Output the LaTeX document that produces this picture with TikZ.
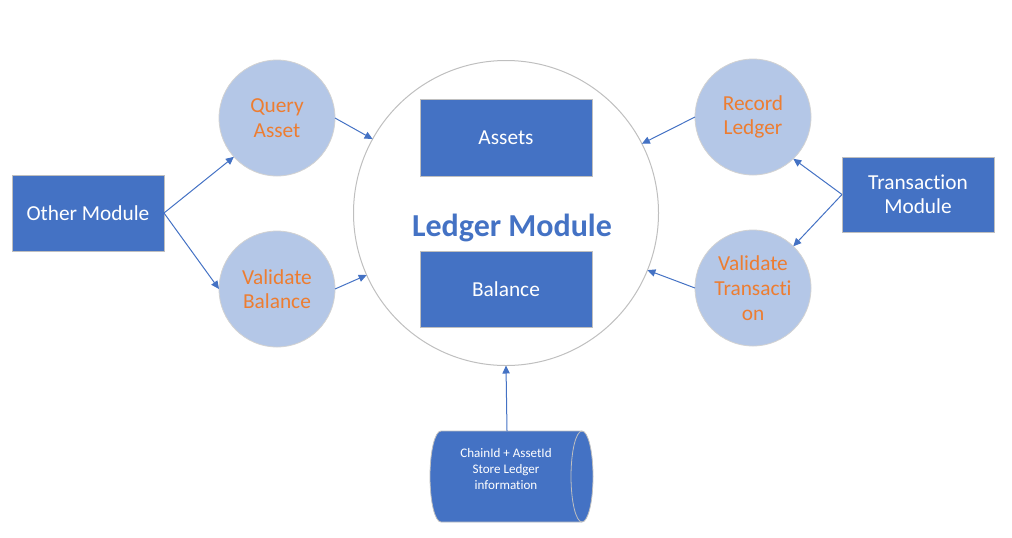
\documentclass[tikz,border=0pt]{standalone}
\usepackage{fontspec}
\setmainfont{Carlito}[Ligatures=NoCommon]
\usetikzlibrary{shapes.geometric,arrows.meta}
\definecolor{dblue}{HTML}{4472C4}
\definecolor{lblue}{HTML}{B4C7E7}
\definecolor{orng}{HTML}{ED7D31}
\definecolor{ringgray}{HTML}{BFBFBF}
\begin{document}
\begin{tikzpicture}[x=0.75pt,y=-0.75pt,
  bluebox/.style={draw=ringgray,line width=0.75pt,fill=dblue,text=white,inner sep=0pt,outer sep=0pt,align=center,
     font=\fontsize{16}{18}\selectfont},
  opcircle/.style={circle,draw=ringgray!70,line width=0.6pt,fill=lblue,text=orng,inner sep=0pt,outer sep=0pt,
     minimum size=87pt,align=center,font=\fontsize{16}{18.5}\selectfont},
  conn/.style={draw=dblue,line width=0.75pt,-{Triangle[length=6pt,width=5.5pt]}}]
\useasboundingbox (0,0) rectangle (1012,537);
\node[circle,draw=ringgray,line width=0.75pt,minimum size=228.75pt,inner sep=0pt,outer sep=0pt] (ledger) at (506,213) {};
\node[bluebox,minimum width=129pt,minimum height=57.75pt] (assets) at (506,137.5) {Assets};
\node[bluebox,minimum width=129pt,minimum height=57pt] (balance) at (506,289) {Balance};
\node[anchor=base,text=dblue,font=\fontsize{24}{26}\selectfont\bfseries,inner sep=0pt] (ltitle) at (512,236) {Ledger Module};
\node[opcircle] (qa) at (277,118) {Query\\Asset};
\node[opcircle] (vb) at (277,289) {Validate\\Balance};
\node[opcircle] (rl) at (753,117) {Record\\Ledger};
\node[opcircle] (vt) at (753,288) {Validate\\Transacti\\on};
\node[bluebox,minimum width=114pt,minimum height=57pt] (om) at (88,213) {Other Module};
\node[bluebox,minimum width=114pt,minimum height=56.25pt] (tm) at (918,194.5) {Transaction\\Module};
% storage cylinder
\fill[dblue] (441,431) -- (582,431) arc[start angle=-90,end angle=90,x radius=11,y radius=45.5]
  -- (441,522) arc[start angle=90,end angle=270,x radius=11,y radius=45.5] -- cycle;
\draw[ringgray,line width=0.6pt] (441,431) -- (582,431) arc[start angle=-90,end angle=90,x radius=11,y radius=45.5]
  -- (441,522) arc[start angle=90,end angle=270,x radius=11,y radius=45.5] -- cycle;
\draw[ringgray,line width=0.6pt] (582,431) arc[start angle=270,end angle=90,x radius=11,y radius=45.5];
\node[minimum width=106pt,minimum height=68.25pt,inner sep=0pt,outer sep=0pt] (cyl) at (507,476.5) {};
\node[text=white,align=center,inner sep=0pt,font=\fontsize{9.8}{12}\selectfont] (cyltext) at (506,469) {ChainId + AssetId\\Store Ledger\\information};
\draw[conn] (om.east) -- (qa.222);
\draw[conn] (om.east) -- (vb.west);
\draw[conn] (qa.east) -- (ledger.151);
\draw[conn] (vb.east) -- (ledger.204);
\draw[conn] (rl.west) -- (ledger.27);
\draw[conn] (vt.west) -- (ledger.-22);
\draw[conn] (tm.west) -- (rl.-46);
\draw[conn] (tm.west) -- (vt.46);
\draw[conn] (cyl.north) -- (ledger.south);
\end{tikzpicture}
\end{document}
